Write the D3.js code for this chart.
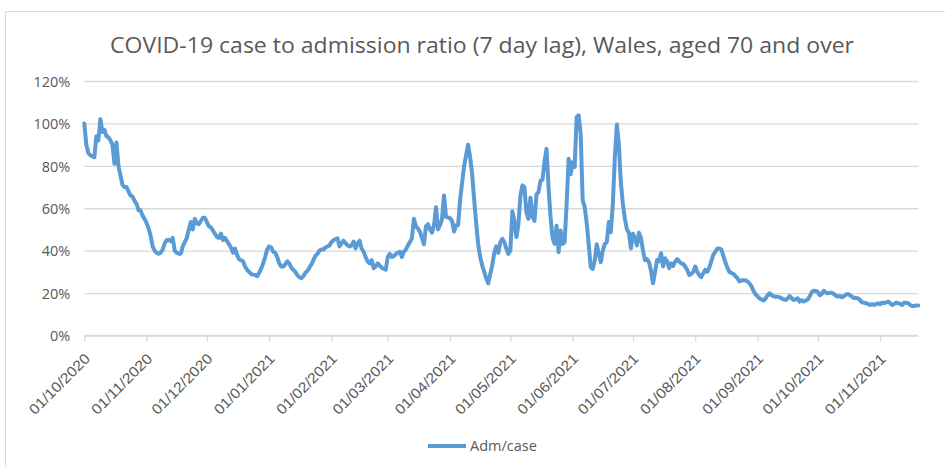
<!DOCTYPE html>
<html>
<head>
<meta charset="utf-8">
<script src="https://cdn.jsdelivr.net/npm/d3@7"></script>
<style>
  html, body { margin: 0; padding: 0; background: #fff; }
  svg { display: block; font-family: "Open Sans", "Noto Sans", sans-serif; }
</style>
</head>
<body>
<svg id="chart" width="945" height="466"></svg>
<script>
// ---------------- DATA ----------------
const chartTitle = "COVID-19 case to admission ratio (7 day lag), Wales, aged 70 and over";
const seriesName = "Adm/case";
const startDate = "01/10/2020";   // first daily value
const endDate = "20/11/2021";     // end of the date axis
// Daily admission/case ratio (%), one value per day from 01/10/2020
const admCase = [
  100, 90, 86, 85, 84.5, 84, 94, 92, 102, 96,
  97, 94, 93.5, 92, 90, 81, 91, 80, 75.5, 71,
  70, 70, 68, 66, 65.5, 63.5, 62, 59, 59, 56.5,
  55, 53, 50.5, 47, 42, 40, 39, 38.5, 39, 40.5,
  43.5, 45, 45, 44.5, 46, 40, 39, 38.5, 38.5, 42,
  44, 46, 50, 53.5, 50, 55, 53, 52.5, 54, 55.5,
  55.5, 53.5, 51.5, 51, 49.5, 48, 46.5, 46, 48, 45,
  46, 44.5, 43, 41.5, 39, 41, 38, 36, 35.5, 35,
  32.5, 31, 30, 29, 28.7, 28.5, 28, 29.5, 31.5, 34,
  37, 40.5, 42, 41.5, 39.5, 39, 37, 34, 32.5, 32.5,
  33.5, 35, 34, 32, 31, 30, 28.5, 27.5, 27, 28,
  29.5, 30.5, 32, 33.5, 35.5, 37.5, 38.5, 40, 40.5, 40.5,
  41.5, 42, 42.5, 44, 45, 45.4, 45.8, 42, 43.5, 44.7,
  43.5, 42.5, 42, 42.5, 44.3, 41, 43.5, 44.7, 41, 39.5,
  37, 35, 34, 35.5, 31.7, 32.5, 34, 33, 32, 31.5,
  31, 37, 38.5, 37, 37.5, 38.4, 39, 39.5, 37, 39.5,
  40.5, 42.5, 44, 45.8, 55, 51.5, 50.5, 49, 46, 43,
  51.5, 52.5, 50, 48.5, 52, 60.5, 50, 52, 55, 66,
  56, 55.7, 55.3, 54, 49, 52, 52, 64, 72, 80,
  85, 90, 84, 76, 64, 53, 43, 37, 33, 30,
  27, 24.6, 29, 33, 39, 42, 39, 44, 45.6, 44,
  41, 38.5, 40, 58.6, 54, 46.4, 52, 66, 70.8, 70,
  58, 55, 65, 56, 54, 66.5, 67.6, 73, 73.4, 82,
  88, 70, 56, 46, 43.2, 51.8, 39.3, 49.5, 43.2, 44,
  62, 83.3, 76, 81.7, 79.4, 103, 103.8, 95, 63.7, 60.5,
  53, 43, 32.2, 31.4, 35.4, 43, 38.5, 34.6, 40, 43.2,
  44, 53.5, 48.7, 62, 84, 99.5, 90, 72, 62, 55,
  50, 48.5, 41, 48, 46, 42.5, 48.5, 46, 40, 35.5,
  36, 34.5, 30.5, 24.6, 30, 35.6, 35, 38.8, 32.5, 36.4,
  35, 31.7, 34, 32.8, 34.8, 36, 35, 34, 33.7, 32.5,
  31, 28.5, 29, 30, 32.5, 30, 28.5, 27.5, 29.3, 31,
  30, 32, 35, 38, 39.5, 41, 41, 40.5, 37.5, 34.5,
  32, 30, 29.5, 29, 28, 27, 25.5, 26, 26, 26,
  25.5, 24.6, 23.2, 21, 19.5, 18.5, 17.5, 17, 16.5, 17.5,
  19, 19.9, 19, 18.5, 18.3, 18.3, 18, 17.5, 17, 16.7,
  17.5, 18.6, 17.5, 16.7, 17, 17.5, 16, 16.7, 16, 16.5,
  17, 18.6, 20.5, 21.1, 21, 20.5, 19, 19.6, 21.1, 20.2,
  19.9, 20.1, 20.1, 19.6, 18.8, 18.3, 18.6, 18, 18.6, 19.3,
  19.6, 19, 18.3, 17.6, 17.8, 17.5, 16.7, 15.6, 15.5, 15.2,
  14.9, 14.4, 14.9, 14.4, 14.8, 15.2, 14.7, 15.5, 15.2, 15.6,
  16, 15.2, 14.4, 14.9, 15.5, 15.2, 14.9, 14.4, 15.5, 15.4,
  15.2, 14.4, 13.9, 13.9, 14.2, 14.2
];
const yTicks = [0, 20, 40, 60, 80, 100, 120];
const xTickLabels = [
  "01/10/2020", "01/11/2020", "01/12/2020", "01/01/2021", "01/02/2021",
  "01/03/2021", "01/04/2021", "01/05/2021", "01/06/2021", "01/07/2021",
  "01/08/2021", "01/09/2021", "01/10/2021", "01/11/2021"
];

// ---------------- DRAW ----------------
const svg = d3.select("#chart");
const parse = d3.utcParse("%d/%m/%Y");
const t0 = parse(startDate), t1 = parse(endDate);
const data = admCase.map((v, i) => ({ date: d3.utcDay.offset(t0, i), value: v }));

const plot = { left: 84.3, right: 918.3, top: 81, bottom: 335.5 };
const x = d3.scaleUtc().domain([t0, t1]).range([plot.left, plot.right]);
const y = d3.scaleLinear().domain([0, 120]).range([plot.bottom, plot.top]);

const gridColor = "#d9d9d9";
const textColor = "#595959";
const lineColor = "#5b9bd5";

// chart area border
svg.append("rect")
  .attr("x", 5.5).attr("y", 11.5).attr("width", 960).attr("height", 470)
  .attr("fill", "#fff").attr("stroke", gridColor).attr("stroke-width", 1);

// title
svg.append("text")
  .attr("x", 482).attr("y", 53)
  .attr("text-anchor", "middle")
  .attr("fill", textColor)
  .attr("font-size", 21)
  .attr("textLength", 744).attr("lengthAdjust", "spacingAndGlyphs")
  .text(chartTitle);

// y gridlines + labels
const yAxis = d3.axisLeft(y).tickValues(yTicks).tickFormat(d => d + "%")
  .tickSize(-(plot.right - plot.left)).tickPadding(14);
const gy = svg.append("g").attr("transform", `translate(${plot.left},0)`).call(yAxis);
gy.select(".domain").remove();
gy.selectAll(".tick line").attr("stroke", gridColor).attr("stroke-width", 1.3);
gy.selectAll(".tick text").attr("fill", textColor).attr("font-size", 14.5)
  .attr("font-family", "'Open Sans', sans-serif").attr("dy", "0.36em");

// x axis with month ticks
const xTickDates = xTickLabels.map(parse);
const xAxis = d3.axisBottom(x).tickValues(xTickDates)
  .tickFormat(d3.utcFormat("%d/%m/%Y")).tickSize(6).tickPadding(4);
const gx = svg.append("g").attr("transform", `translate(0,${plot.bottom})`).call(xAxis);
gx.select(".domain").attr("stroke", gridColor).attr("stroke-width", 1.3)
  .attr("d", `M${plot.left},0H${plot.right}`);
gx.selectAll(".tick line").attr("stroke", gridColor).attr("stroke-width", 1.3);
gx.selectAll(".tick text")
  .attr("fill", textColor).attr("font-size", 14.5)
  .attr("text-anchor", "end")
  .attr("textLength", 79).attr("lengthAdjust", "spacingAndGlyphs")
  .attr("transform", "translate(2.5,20.5) rotate(-45)")
  .attr("dy", "0.35em").attr("y", 0).attr("x", 0);

// line
const line = d3.line().x(d => x(d.date)).y(d => y(d.value));
svg.append("path").datum(data)
  .attr("fill", "none").attr("stroke", lineColor)
  .attr("stroke-width", 4).attr("stroke-linejoin", "round").attr("stroke-linecap", "round")
  .attr("d", line);

// legend
const lg = svg.append("g").attr("transform", "translate(428,446)");
lg.append("line").attr("x1", 0).attr("x2", 38).attr("y1", 0).attr("y2", 0)
  .attr("stroke", lineColor).attr("stroke-width", 4);
lg.append("text").attr("x", 42).attr("y", 0).attr("dy", "0.35em")
  .attr("fill", textColor).attr("font-size", 14.5).text(seriesName);
</script>
</body>
</html>
